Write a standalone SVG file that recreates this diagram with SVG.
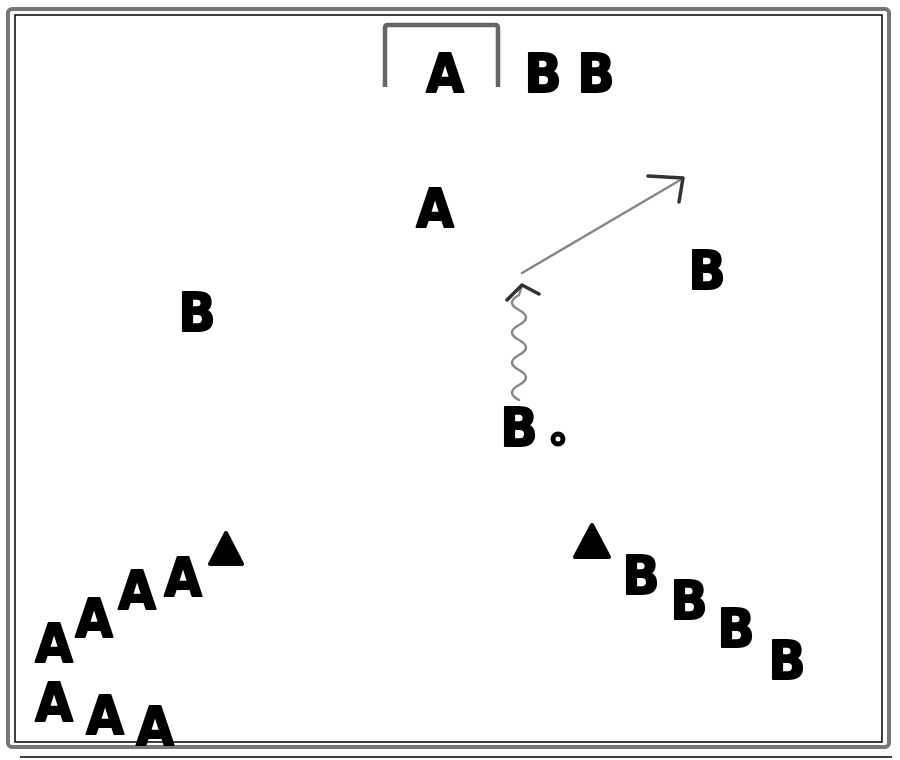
<svg xmlns="http://www.w3.org/2000/svg" width="900" height="760" viewBox="0 0 900 760">
<style>
.p{font-family:"DejaVu Sans Condensed","DejaVu Sans","Liberation Sans",sans-serif;font-stretch:condensed;font-weight:bold;font-size:54px;fill:#000;stroke:#000;stroke-width:2;stroke-linejoin:round;text-anchor:middle}
.ln{fill:none;stroke:#888;stroke-width:2.5;stroke-linecap:round;stroke-linejoin:round}
.hd{fill:none;stroke:#333;stroke-width:3.5;stroke-linecap:round;stroke-linejoin:round}
.tri{fill:#000;stroke:#000;stroke-width:4;stroke-linejoin:round}
</style>
<rect width="900" height="760" fill="#fff"/>
<g id="field">
<rect x="8" y="9" width="881" height="738" rx="4" fill="none" stroke="#777" stroke-width="4"/>
<rect x="15" y="15" width="867" height="727" fill="none" stroke="#000" stroke-width="1.5"/>
<line x1="20" y1="757" x2="892" y2="757" stroke="#000" stroke-width="1.5"/>
</g>
<g id="goal">
<path d="M385,87 V28 Q385,25 388,25 H495 Q498,25 498,28 V87" fill="none" stroke="#666" stroke-width="4.5"/>
</g>
<g id="connectors">
<path class="ln" d="M519,400 q-14,-7.5 0,-15 t0,-15 t0,-15 t0,-15 t0,-15 t0,-15 t0,-15 L522,285"/>
<polyline class="hd" points="507,300 522,285 539,294"/>
<line class="ln" x1="522" y1="273" x2="682" y2="179"/>
<polyline class="hd" points="648,176 683,178 679,202"/>
</g>
<g id="goalkeeper"><text class="p" x="445" y="92">A</text></g>
<g id="b-top1"><text class="p" x="543" y="92">B</text></g>
<g id="b-top2"><text class="p" x="596" y="92">B</text></g>
<g id="a-mid"><text class="p" x="435" y="227">A</text></g>
<g id="b-right"><text class="p" x="707" y="289">B</text></g>
<g id="b-left"><text class="p" x="197" y="331">B</text></g>
<g id="b-ball"><text class="p" x="519" y="446">B</text>
<circle cx="558" cy="439" r="5" fill="#fff" stroke="#000" stroke-width="5"/></g>
<g id="cone-left"><polygon class="tri" points="210,564 226,533 242,564"/></g>
<g id="a-row">
<text class="p" x="54" y="662">A</text>
<text class="p" x="94" y="637">A</text>
<text class="p" x="137" y="609">A</text>
<text class="p" x="183" y="596">A</text>
<text class="p" x="54" y="721">A</text>
<text class="p" x="105" y="734">A</text>
<text class="p" x="155" y="745">A</text>
</g>
<g id="cone-right"><polygon class="tri" points="575,557 592,525 609,557"/></g>
<g id="b-row">
<text class="p" x="641" y="594">B</text>
<text class="p" x="689" y="619">B</text>
<text class="p" x="736" y="647">B</text>
<text class="p" x="787" y="679">B</text>
</g>
</svg>
